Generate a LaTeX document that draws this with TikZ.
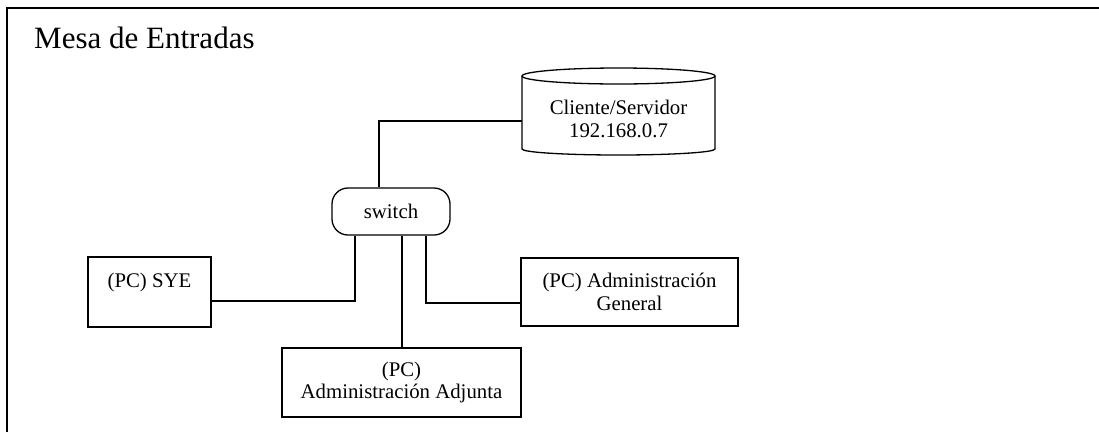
\documentclass[tikz,border=0pt]{standalone}
\usepackage{fontspec}
\setmainfont{Liberation Serif}
\begin{document}
\begin{tikzpicture}[x=1pt,y=-1pt,
  lbl/.style={font=\fontsize{20.8}{22.5}\selectfont, align=center, inner sep=0pt},
  pcbox/.style={draw, line width=1.3pt, rectangle, inner sep=0pt, lbl},
  wire/.style={line width=1.3pt}]
\useasboundingbox (0,0) rectangle (1099,432);
% frame
\draw[line width=1.8pt] (7,432) -- (7,8) -- (1099,8);
% title
\node[anchor=base west, inner sep=0pt, font=\fontsize{31}{35}\selectfont] (title) at (34,48) {Mesa de Entradas};
% server cylinder
\node[minimum width=193pt, minimum height=87pt, inner sep=0pt] (srv) at (618.5,111.5) {};
\draw[line width=1.3pt] (618.5,76) ellipse [x radius=96.5pt, y radius=8pt];
\draw[line width=1.3pt] (522,76) -- (522,149) arc[start angle=180, end angle=360, x radius=96.5pt, y radius=6pt] -- (715,76);
\node[lbl] (srvtext) at (618.5,119) {Cliente/Servidor\\192.168.0.7};
% switch
\node[draw, line width=1.3pt, rounded corners=16pt, minimum width=118pt, minimum height=47pt, lbl] (sw) at (391,211.5) {switch};
% PCs
\node[pcbox, minimum width=123pt, minimum height=70pt] (sye) at (149.5,292) {(PC) SYE\\\mbox{}};
\node[pcbox, minimum width=239pt, minimum height=69pt] (adj) at (401.5,382.5) {(PC)\\Administración Adjunta};
\node[pcbox, minimum width=217pt, minimum height=68pt] (gen) at (629.5,292) {(PC) Administración\\General};
% connectors
\draw[wire] ([xshift=-12pt]sw.north) |- ([yshift=-9.5pt]srv.west);
\draw[wire] ([xshift=-36pt]sw.south) |- ([yshift=-9pt]sye.east);
\draw[wire] ([xshift=11pt]sw.south) -- ([xshift=0.5pt]adj.north);
\draw[wire] ([xshift=35pt]sw.south) |- ([yshift=-11pt]gen.west);
\end{tikzpicture}
\end{document}
